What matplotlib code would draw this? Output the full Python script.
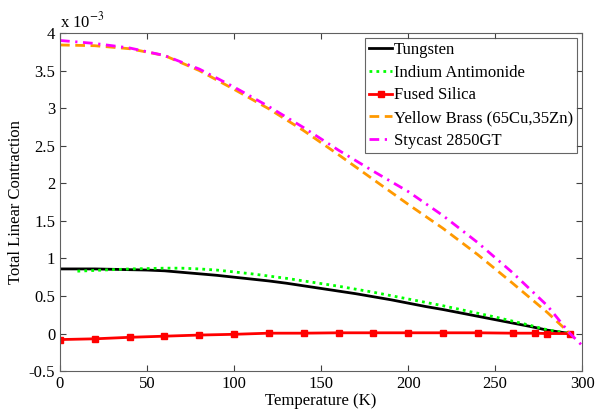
import numpy as np
import matplotlib
matplotlib.use("Agg")
import matplotlib.pyplot as plt

# values in units of 1e-3
t_w = [0, 10, 20, 30, 40, 50, 60, 70, 80, 90, 100, 110, 120, 130, 140, 150, 160, 170,
       180, 190, 200, 210, 220, 230, 240, 250, 260, 270, 280, 293]
tungsten = [0.86, 0.86, 0.86, 0.855, 0.85, 0.845, 0.835, 0.815, 0.795, 0.775, 0.75, 0.725,
            0.70, 0.67, 0.635, 0.60, 0.565, 0.53, 0.49, 0.45, 0.405, 0.36, 0.32, 0.275,
            0.23, 0.185, 0.14, 0.095, 0.045, 0.0]

t_insb = [10, 20, 30, 40, 50, 60, 70, 80, 90, 100, 110, 120, 130, 140, 150, 160, 170,
          180, 190, 200, 210, 220, 230, 240, 250, 260, 270, 280, 293]
insb = [0.83, 0.84, 0.85, 0.86, 0.865, 0.87, 0.87, 0.86, 0.845, 0.82, 0.795, 0.765, 0.735,
        0.70, 0.665, 0.63, 0.59, 0.55, 0.505, 0.46, 0.415, 0.37, 0.32, 0.27, 0.22, 0.165,
        0.11, 0.05, 0.0]

t_sio2 = [0, 20, 40, 60, 80, 100, 120, 140, 160, 180, 200, 220, 240, 260, 273, 280, 293]
silica = [-0.08, -0.07, -0.05, -0.035, -0.02, -0.01, 0.005, 0.005, 0.01, 0.01, 0.01, 0.01,
          0.01, 0.005, 0.005, 0.0, 0.0]

t_brass = [0, 20, 40, 60, 80, 100, 120, 140, 160, 180, 200, 220, 240, 260, 280, 293]
brass = [3.84, 3.83, 3.79, 3.70, 3.50, 3.25, 2.99, 2.70, 2.38, 2.05, 1.72, 1.40, 1.05,
         0.67, 0.28, 0.0]

t_sty = [0, 20, 40, 60, 80, 100, 120, 140, 160, 180, 200, 220, 240, 260, 280, 293, 300]
stycast = [3.90, 3.86, 3.80, 3.70, 3.52, 3.28, 3.02, 2.74, 2.44, 2.16, 1.89, 1.57, 1.21,
           0.81, 0.37, 0.0, -0.16]

plt.rcParams['font.family'] = ['Liberation Serif', 'DejaVu Serif']
plt.rcParams['mathtext.fontset'] = 'stix'

fig = plt.figure(figsize=(6.03, 4.17), dpi=100)
ax = fig.add_axes([0.0995, 0.11, 0.866, 0.811])

ax.plot(t_w, tungsten, color='black', lw=2, label='Tungsten')
ax.plot(t_insb, insb, color='#00ff00', lw=2, ls=(0, (1, 1.5)), label='Indium Antimonide')
ax.plot(t_sio2, silica, color='red', lw=2, marker='s', ms=5, label='Fused Silica')
ax.plot(t_brass, brass, color='#ff9900', lw=2, ls=(0, (3.5, 2)), label='Yellow Brass (65Cu,35Zn)')
ax.plot(t_sty, stycast, color='magenta', lw=2, ls=(0, (3.5, 2, 0.8, 2)), label='Stycast 2850GT')

ax.set_xlim(0, 300)
ax.set_ylim(-0.5, 4)
ax.set_xticks(np.arange(0, 301, 50))
ax.set_yticks(np.arange(-0.5, 4.01, 0.5))
ax.set_yticklabels(['-0.5', '0', '0.5', '1', '1.5', '2', '2.5', '3', '3.5', '4'])
ax.tick_params(direction='in', top=True, right=True, labelsize=12, length=4, colors='#404040',
               labelcolor='black')
for s in ax.spines.values():
    s.set_color('#606060')

ax.set_xlabel('Temperature (K)', fontsize=12, labelpad=1)
ax.set_ylabel('Total Linear Contraction', fontsize=12, labelpad=3)
ax.text(0, 1.005, r'x 10$^{-3}$', transform=ax.transAxes, fontsize=12, va='bottom', ha='left')

leg = ax.legend(loc='upper right', fontsize=12, frameon=True, fancybox=False, edgecolor='#404040',
                borderpad=0.25, labelspacing=0.4, handlelength=1.4, handletextpad=0.1,
                borderaxespad=0.3)
leg.get_frame().set_linewidth(0.8)

fig.savefig('out.png', dpi=100)
